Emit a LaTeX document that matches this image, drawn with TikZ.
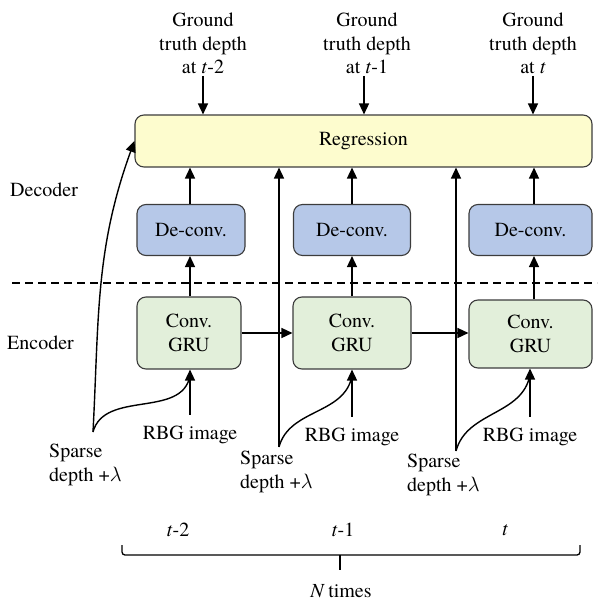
\documentclass[tikz,border=0pt]{standalone}
\usepackage{fontspec}
\setmainfont{texgyretermes}[Extension=.otf,UprightFont=*-regular,ItalicFont=*-italic,BoldFont=*-bold]
\usetikzlibrary{arrows.meta}

\definecolor{regfill}{RGB}{253,252,206}
\definecolor{decfill}{RGB}{182,200,232}
\definecolor{encfill}{RGB}{226,239,218}
\definecolor{boxline}{RGB}{60,60,60}

\begin{document}
\begin{tikzpicture}
    [x=1pt,y=-1pt,
      font=\fontsize{20}{23.5}\selectfont,
      box/.style={draw=boxline,line width=1.1pt,rounded corners=9pt,inner sep=0pt,align=center},
      regbox/.style={box,fill=regfill,minimum width=457pt,minimum height=52pt},
      decbox/.style={box,fill=decfill,minimum height=51pt},
      encbox/.style={box,fill=encfill,minimum height=72pt},
      txt/.style={inner sep=2pt,align=center},
      arr/.style={-{Triangle[length=11pt,width=10pt]},line width=1.4pt},
      wire/.style={line width=1.4pt},
    ]
    \useasboundingbox (0,0) rectangle (597,601);

    % boxes
    \node [regbox] (reg) at (363.5,141) {Regression};
    \node [decbox,minimum width=108pt] (dec1) at (191,230) {De-conv.};
    \node [decbox,minimum width=117pt] (dec2) at (352,230) {De-conv.};
    \node [decbox,minimum width=123pt] (dec3) at (530.5,230) {De-conv.};
    \node [encbox,minimum width=104pt] (enc1) at (189,333) {Conv.\\GRU};
    \node [encbox,minimum width=118pt] (enc2) at (352,333) {Conv.\\GRU};
    \node [encbox,minimum width=123pt,minimum height=68pt] (enc3) at (530.5,334) {Conv.\\GRU};

    % labels
    \node [txt,anchor=south] (gt1) at (203,76) {Ground\\truth depth\\at \textit{t}-2};
    \node [txt,anchor=south] (gt2) at (367,76) {Ground\\truth depth\\at \textit{t}-1};
    \node [txt,anchor=south] (gt3) at (533,76) {Ground\\truth depth\\at \textit{t}};
    \node [txt,anchor=west] (declab) at (8,190) {Decoder};
    \node [txt,anchor=west] (enclab) at (5,343) {Encoder};
    \node [txt] (rgb1) at (190,435) {RBG image};
    \node [txt] (rgb2) at (352,437) {RBG image};
    \node [txt] (rgb3) at (530,437) {RBG image};
    \node [txt,anchor=north west,align=left] (sp1) at (47,442) {Sparse\\depth +$\lambda$};
    \node [txt,anchor=north west,align=left] (sp2) at (238,449) {Sparse\\depth +$\lambda$};
    \node [txt,anchor=north west,align=left] (sp3) at (405,452) {Sparse\\depth +$\lambda$};
    \node [txt] (tm2) at (178,530) {\textit{t}-2};
    \node [txt] (tm1) at (343,530) {\textit{t}-1};
    \node [txt] (tm0) at (505,530) {\textit{t}};
    \node [txt] (ntimes) at (341,591) {\textit{N}\,times};

    \coordinate (s1) at (93,432);
    \coordinate (s2) at (279,447);
    \coordinate (s3) at (456,451);

    % encoder / decoder split
    \draw [dashed,dash pattern=on 8pt off 5pt,line width=1.3pt] (12,283) -- (597,283);

    % ground truth into regression
    \draw [arr] (gt1.south) -- (gt1.south |- reg.north);
    \draw [arr] (gt2.south -| 364,0) -- (364,0 |- reg.north);
    \draw [arr] (gt3.south) -- (gt3.south |- reg.north);

    % decoder to regression
    \draw [arr] (dec1.north -| 190,0) -- (190,0 |- reg.south);
    \draw [arr] (dec2.north) -- (dec2.north |- reg.south);
    \draw [arr] (dec3.north -| 534,0) -- (534,0 |- reg.south);

    % encoder to decoder
    \draw [arr] (enc1.north -| 190,0) -- (190,0 |- dec1.south);
    \draw [arr] (enc2.north) -- (dec2.south);
    \draw [arr] (enc3.north -| 534,0) -- (534,0 |- dec3.south);

    % recurrence
    \draw [arr] (enc1.east) -- (enc1.east -| enc2.west);
    \draw [arr] (enc2.east) -- (enc2.east -| enc3.west);

    % images in
    \draw [arr] ([yshift=9pt]rgb1.north) -- (rgb1 |- enc1.south);
    \draw [arr] ([yshift=9pt]rgb2.north) -- (rgb2 |- enc2.south);
    \draw [arr] ([yshift=9pt]rgb3.north) -- (rgb3 |- enc3.south);

    % sparse depth in
    \draw [wire] (s1) to[out=75,in=-100] ([yshift=-6pt]rgb1 |- enc1.south);
    \draw [wire] (s2) to[out=75,in=-100] ([yshift=-6pt]rgb2 |- enc2.south);
    \draw [wire] (s3) to[out=75,in=-100] ([yshift=-6pt]rgb3 |- enc3.south);
    \draw [arr] (s1) to[out=87,in=-110] (reg.west);
    \draw [arr] (s2) -- (s2 |- reg.south);
    \draw [arr] (s3) -- (s3 |- reg.south);

    % N times
    \coordinate (brl) at (122,545);
    \coordinate (brr) at (580,545);
    \coordinate (brm) at (340,555);
    \coordinate (brt) at (340,570);
    \draw [line width=1.3pt,rounded corners=3pt] (brl) |- (brm) -| (brr);
    \draw [line width=1.3pt] (brm) -- (brt);
  \end{tikzpicture}
\end{document}
